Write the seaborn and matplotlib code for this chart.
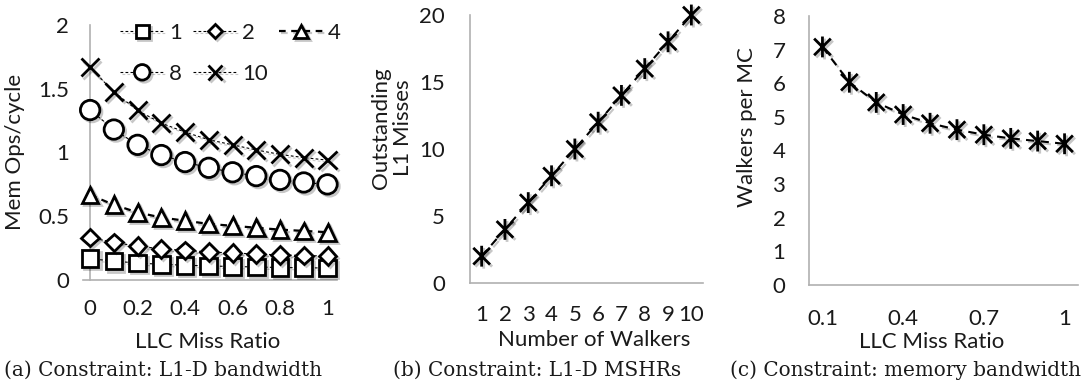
import numpy as np
import pandas as pd
import matplotlib
matplotlib.use("Agg")
import matplotlib.pyplot as plt
import matplotlib.patheffects as pe
from matplotlib.path import Path
import seaborn as sns

# ---------------- data ----------------
miss_ratio_a = [0.0, 0.1, 0.2, 0.3, 0.4, 0.5, 0.6, 0.7, 0.8, 0.9, 1.0]
ops_w1 = [0.167, 0.148, 0.133, 0.123, 0.116, 0.110, 0.106, 0.102, 0.098, 0.096, 0.094]
ops_w2 = [0.333, 0.295, 0.265, 0.245, 0.232, 0.220, 0.212, 0.204, 0.197, 0.192, 0.188]
ops_w4 = [0.667, 0.590, 0.530, 0.490, 0.465, 0.440, 0.425, 0.410, 0.395, 0.385, 0.375]
ops_w8 = [1.333, 1.180, 1.060, 0.980, 0.925, 0.880, 0.845, 0.815, 0.785, 0.765, 0.750]
ops_w10 = [1.667, 1.475, 1.330, 1.230, 1.160, 1.100, 1.060, 1.020, 0.985, 0.960, 0.940]
series_names_a = ["1", "2", "4", "8", "10"]
a_tick_labels = ["0", "0.2", "0.4", "0.6", "0.8", "1"]

walkers_b = [1, 2, 3, 4, 5, 6, 7, 8, 9, 10]
outstanding_b = [2, 4, 6, 8, 10, 12, 14, 16, 18, 20]

miss_ratio_c = [0.1, 0.2, 0.3, 0.4, 0.5, 0.6, 0.7, 0.8, 0.9, 1.0]
walkers_per_mc_c = [7.08, 6.03, 5.43, 5.07, 4.81, 4.62, 4.47, 4.36, 4.28, 4.20]
c_tick_labels = ["0.1", "0.4", "0.7", "1"]

# ---------------- style ----------------
sns.set_style("white")
plt.rcParams["font.family"] = ["Lato", "DejaVu Sans"]
TXT = "#1a1a1a"
GRAY = "#b0b0b0"
FS = 16
SERIF = ["DejaVu Serif"]

W, H = 1088, 390
fig = plt.figure(figsize=(W / 100, H / 100), dpi=100)


def add_axes(l, r, t, b):
    return fig.add_axes([l / W, 1 - b / H, (r - l) / W, (b - t) / H])


def px2ax(box, x, y):
    l, r, t, b = box
    return (x - l) / (r - l), (b - y) / (b - t)


def style_axes(ax):
    for s in ["top", "right"]:
        ax.spines[s].set_visible(False)
    for s in ["left", "bottom"]:
        ax.spines[s].set_color(GRAY)
        ax.spines[s].set_linewidth(1.2)
    ax.tick_params(which="both", colors=GRAY, labelcolor=TXT, labelsize=FS, width=1.2)


shadow = [pe.SimpleLineShadow(offset=(1.5, -1.5), shadow_color="k", alpha=0.22), pe.Normal()]

# asterisk marker: X with a vertical bar
ast = Path([(-1, -1), (1, 1), (-1, 1), (1, -1), (0, -1.25), (0, 1.25)],
           [Path.MOVETO, Path.LINETO, Path.MOVETO, Path.LINETO, Path.MOVETO, Path.LINETO])

# ---------------- panel (a) ----------------
box_a = (83, 337, 25, 280)
ax = add_axes(*box_a)
style_axes(ax)
series_a = [ops_w1, ops_w2, ops_w4, ops_w8, ops_w10]
markers_a = ["s", "D", "^", "o", "x"]
msizes = [12, 9, 12, 14, 13]
styles_a = [(0, (2.5, 2)), (0, (2.5, 2)), (0, (3, 2.5)), (0, (2.5, 2)), (0, (2.5, 2))]
lws_a = [0.8, 0.8, 1.6, 0.8, 0.8]
handles = {}
for name, vals, m, ms, ls, lw in zip(series_names_a, series_a, markers_a, msizes, styles_a, lws_a):
    sns.lineplot(x=miss_ratio_a, y=vals, ax=ax, marker=m, markersize=ms,
                 markerfacecolor="white", markeredgecolor="black", markeredgewidth=2.0,
                 color="black", linestyle=ls, linewidth=lw, clip_on=False,
                 path_effects=shadow, zorder=3, label=name)
    handles[name] = ax.get_lines()[-1]
ax.set_xlim(-0.03, 1.04)
ax.set_ylim(0, 2)
ax.spines["left"].set_position(("data", 0))
ax.set_xticks([float(v) for v in a_tick_labels])
ax.set_xticklabels(a_tick_labels)
ax.set_xticks([0.1, 0.3, 0.5, 0.7, 0.9], minor=True)
ax.tick_params(axis="x", which="both", direction="out", length=7)
ax.tick_params(axis="x", which="major", pad=7)
ax.set_yticks([0, 0.5, 1, 1.5, 2])
ax.set_yticklabels(["0", "0.5", "1", "1.5", "2"])
ax.tick_params(axis="y", direction="out", length=8, pad=7)
order = ["1", "8", "2", "10", "4"]
leg = ax.legend([handles[k] for k in order], order, ncol=3, frameon=False,
                loc="upper left", bbox_to_anchor=px2ax(box_a, 120, 23),
                fontsize=FS, handlelength=2.0, handletextpad=0.2, columnspacing=0.5,
                labelspacing=0.95, borderpad=0, borderaxespad=0, markerscale=0.8)
for t in leg.get_texts():
    t.set_color(TXT)
ax.set_ylabel("Mem Ops/cycle", fontsize=FS, color=TXT, va="center")
ax.yaxis.set_label_coords(*px2ax(box_a, 15, 152))
ax.set_xlabel("LLC Miss Ratio", fontsize=FS, color=TXT, va="center")
ax.xaxis.set_label_coords(*px2ax(box_a, 208, 342))

# ---------------- panel (b) ----------------
box_b = (470, 703, 15, 283)
ax = add_axes(*box_b)
style_axes(ax)
sns.lineplot(x=walkers_b, y=outstanding_b, ax=ax, marker=ast, markersize=15,
             markeredgecolor="black", markeredgewidth=2.0, color="black",
             linestyle=(0, (4, 3)), linewidth=1.5, clip_on=False, path_effects=shadow)
ax.set_xlim(0.5, 10.5)
ax.set_ylim(0, 20)
ax.set_xticks(np.arange(0.5, 10.6, 1))
ax.set_xticklabels([])
ax.set_xticks(walkers_b, minor=True)
ax.set_xticklabels([str(w) for w in walkers_b], minor=True)
ax.tick_params(axis="x", which="major", direction="out", length=7)
ax.tick_params(axis="x", which="minor", length=0, pad=16)
ax.set_yticks([0, 5, 10, 15, 20])
ax.tick_params(axis="y", direction="out", length=8, pad=10)
ax.set_ylabel("Outstanding\nL1 Misses", fontsize=FS, color=TXT, va="center", linespacing=1.1)
ax.yaxis.set_label_coords(*px2ax(box_b, 392, 128))
ax.set_xlabel("Number of Walkers", fontsize=FS, color=TXT, va="center")
ax.xaxis.set_label_coords(*px2ax(box_b, 594, 340))

# ---------------- panel (c) ----------------
box_c = (809, 1078, 16, 285)
ax = add_axes(*box_c)
style_axes(ax)
sns.lineplot(x=miss_ratio_c, y=walkers_per_mc_c, ax=ax, marker=ast, markersize=15,
             markeredgecolor="black", markeredgewidth=2.0, color="black",
             linestyle=(0, (4, 3)), linewidth=1.5, clip_on=False, path_effects=shadow)
ax.set_xlim(0.05, 1.05)
ax.set_ylim(0, 8)
ax.set_xticks(np.arange(0.05, 1.06, 0.1))
ax.set_xticklabels([])
ax.set_xticks([float(v) for v in c_tick_labels], minor=True)
ax.set_xticklabels(c_tick_labels, minor=True)
ax.tick_params(axis="x", which="major", direction="out", length=7)
ax.tick_params(axis="x", which="minor", length=0, pad=17)
ax.set_yticks(range(0, 9))
ax.tick_params(axis="y", direction="out", length=5, pad=12)
ax.set_ylabel("Walkers per MC", fontsize=FS, color=TXT, va="center")
ax.yaxis.set_label_coords(*px2ax(box_c, 747, 127))
ax.set_xlabel("LLC Miss Ratio", fontsize=FS, color=TXT, va="center")
ax.xaxis.set_label_coords(*px2ax(box_c, 932, 342))

# ---------------- captions ----------------
for x, txt in [(163, "(a) Constraint: L1-D bandwidth"),
               (537, "(b) Constraint: L1-D MSHRs"),
               (905, "(c) Constraint: memory bandwidth")]:
    fig.text(x / W, 1 - 370 / H, txt, ha="center", va="center", fontsize=14.4,
             family=SERIF, color=TXT)

fig.savefig("out.png", dpi=100)
